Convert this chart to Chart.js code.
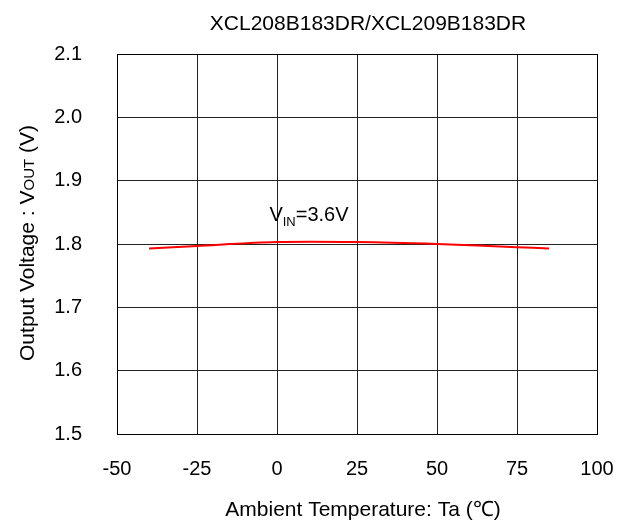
<!DOCTYPE html>
<html>
<head>
<meta charset="utf-8">
<script src="https://cdn.jsdelivr.net/npm/chart.js@4/dist/chart.umd.min.js"></script>
<style>
html,body{margin:0;padding:0;background:#fff;}
#wrap{width:627px;height:524px;position:relative;}
</style>
</head>
<body>
<div id="wrap"><canvas id="c" width="627" height="524"></canvas></div>
<script>
const chartTitle = "XCL208B183DR/XCL209B183DR";
const xAxisTitle = "Ambient Temperature: Ta (\u2103)";
const temperatures = [-40, -25, 0, 25, 50, 75, 85];
const voutVin36 = [1.793, 1.797, 1.803, 1.803, 1.800, 1.795, 1.793];
const xTicks = [-50, -25, 0, 25, 50, 75, 100];
const yTicks = [1.5, 1.6, 1.7, 1.8, 1.9, 2.0, 2.1];
const seriesLabel = {x: 10, y: 1.847};

const FONT = "'Liberation Sans', Arial, sans-serif";
const FS = 20;

const textPlugin = {
  id: 'texts',
  afterDraw(chart) {
    const ctx = chart.ctx;
    const xs = chart.scales.x, ys = chart.scales.y;
    ctx.save();
    ctx.fillStyle = '#000';
    ctx.textBaseline = 'middle';
    ctx.textAlign = 'center';
    // title
    ctx.font = '21px ' + FONT;
    ctx.fillText(chartTitle, 368, 24);
    // x axis title
    ctx.font = '21px ' + FONT;
    ctx.fillText(xAxisTitle, 363, 510);
    // y axis title with small caps OUT
    ctx.save();
    ctx.translate(27, 243);
    ctx.rotate(-Math.PI / 2);
    const parts = [
      ['Output Voltage : V', 21],
      ['OUT', 15],
      [' (V)', 21]
    ];
    let total = 0;
    parts.forEach(p => { ctx.font = p[1] + 'px ' + FONT; total += ctx.measureText(p[0]).width; });
    let x0 = -total / 2;
    ctx.textAlign = 'left';
    ctx.textBaseline = 'alphabetic';
    parts.forEach(p => {
      ctx.font = p[1] + 'px ' + FONT;
      ctx.fillText(p[0], x0, 7);
      x0 += ctx.measureText(p[0]).width;
    });
    ctx.restore();
    // series annotation V_IN=3.6V
    const cx = xs.getPixelForValue(seriesLabel.x);
    const cy = ys.getPixelForValue(seriesLabel.y);
    const segs = [
      ['V', FS, 0],
      ['IN', 13, 5],
      ['=3.6V', FS, 0]
    ];
    let w = 0;
    segs.forEach(s => { ctx.font = s[1] + 'px ' + FONT; w += ctx.measureText(s[0]).width; });
    let sx = cx - w / 2;
    ctx.textAlign = 'left';
    ctx.textBaseline = 'alphabetic';
    segs.forEach(s => {
      ctx.font = s[1] + 'px ' + FONT;
      ctx.fillText(s[0], sx, cy + 7 + s[2]);
      sx += ctx.measureText(s[0]).width;
    });
    ctx.restore();
  }
};

new Chart(document.getElementById('c'), {
  type: 'line',
  data: {
    datasets: [{
      label: 'VIN=3.6V',
      data: temperatures.map((t, i) => ({x: t, y: voutVin36[i]})),
      borderColor: '#ff0000',
      borderWidth: 2,
      pointRadius: 0,
      tension: 0.3,
      fill: false
    }]
  },
  options: {
    responsive: false,
    animation: false,
    devicePixelRatio: 1,
    layout: {padding: {top: 54, right: 30, left: 0, bottom: 0}},
    plugins: {legend: {display: false}, tooltip: {enabled: false}, title: {display: false}},
    scales: {
      x: {
        type: 'linear',
        min: -50, max: 100,
        afterBuildTicks: s => { s.ticks = xTicks.map(v => ({value: v})); },
        afterFit: s => { s.height = 90; s.paddingLeft = 0; s.paddingRight = 0; },
        grid: {color: '#222', lineWidth: 1, drawTicks: false},
        border: {color: '#000', width: 1},
        ticks: {font: {family: FONT, size: FS}, color: '#000', padding: 23, maxRotation: 0,
                callback: v => String(v)}
      },
      y: {
        type: 'linear',
        min: 1.5, max: 2.1,
        afterBuildTicks: s => { s.ticks = yTicks.map(v => ({value: v})); },
        afterFit: s => { s.width = 117; s.paddingTop = 0; s.paddingBottom = 0; },
        grid: {color: '#222', lineWidth: 1, drawTicks: false},
        border: {color: '#000', width: 1},
        ticks: {font: {family: FONT, size: FS}, color: '#000', padding: 35,
                callback: v => Number(v).toFixed(1)}
      }
    }
  },
  plugins: [textPlugin, {
    id: 'frame',
    afterDraw(chart) {
      const ctx = chart.ctx, ca = chart.chartArea;
      ctx.save();
      ctx.strokeStyle = '#000';
      ctx.lineWidth = 1;
      ctx.strokeRect(Math.round(ca.left) + 0.5, Math.round(ca.top) + 0.5,
        Math.round(ca.right - ca.left), Math.round(ca.bottom - ca.top));
      ctx.restore();
    }
  }]
});
</script>
</body>
</html>
